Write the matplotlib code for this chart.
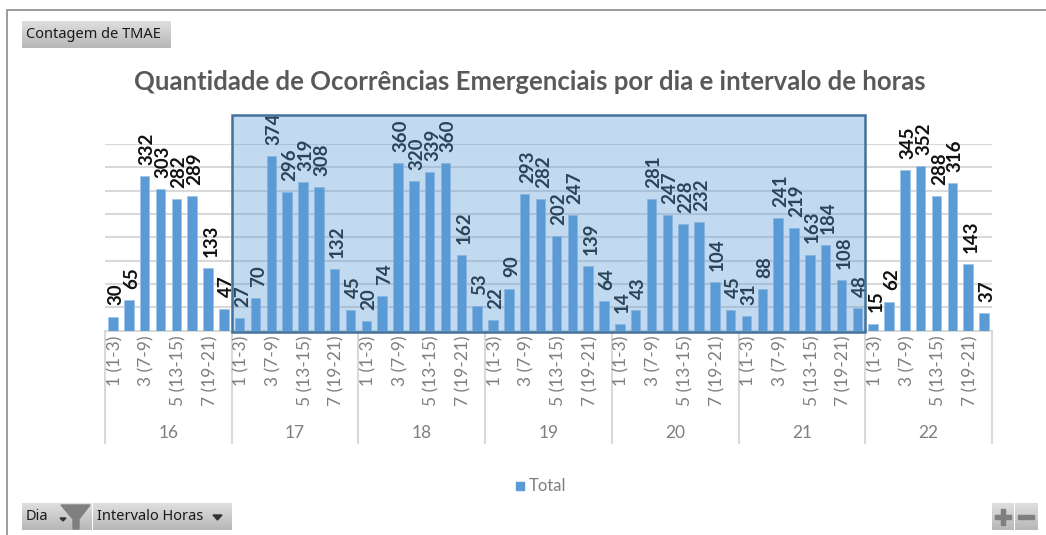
#!/usr/bin/env python3
import numpy as np
import matplotlib
matplotlib.use('Agg')
import matplotlib.pyplot as plt
from matplotlib.patches import Rectangle, Polygon

plt.rcParams['font.family'] = ['Lato', 'DejaVu Sans']

W, H = 1046, 535

days = ['16', '17', '18', '19', '20', '21', '22']
interval_labels = ['1 (1-3)', '', '3 (7-9)', '', '5 (13-15)', '', '7 (19-21)', '']
day_values = [
    [30, 65, 332, 303, 282, 289, 133, 47],
    [27, 70, 374, 296, 319, 308, 132, 45],
    [20, 74, 360, 320, 339, 360, 162, 53],
    [22, 90, 293, 282, 202, 247, 139, 64],
    [14, 43, 281, 247, 228, 232, 104, 45],
    [31, 88, 241, 219, 163, 184, 108, 48],
    [15, 62, 345, 352, 288, 316, 143, 37],
]
selected_days = ['17', '18', '19', '20', '21']

BAR = '#5B9BD5'
GRID = '#D9D9D9'
GREY_TEXT = '#7F7F7F'


def button(ax, x, y, w, h):
    # grey gradient like the pivot field buttons
    grad = np.linspace(0.87, 0.72, 32).reshape(-1, 1)
    ax.imshow(grad, extent=(x, x + w, y + h, y), cmap='gray', vmin=0, vmax=1,
              aspect='auto', zorder=2)


fig = plt.figure(figsize=(W / 100, H / 100), dpi=100)

# page layer in pixel coordinates, for frame and field buttons
page = fig.add_axes([0, 0, 1, 1])
page.set_xlim(0, W)
page.set_ylim(H, 0)
page.axis('off')
page.plot([W, 6.5, 6.5], [10, 10, H], color='#8C8C8C', lw=1.2)

button(page, 22, 21, 149, 27)
page.text(26, 35, 'Contagem de TMAE', fontsize=10.5, family='Noto Sans',
          va='center', color='#1a1a1a', zorder=3)

button(page, 22, 503, 70, 27)
page.text(26, 517, 'Dia', fontsize=10.5, family='Noto Sans', va='center',
          color='#1a1a1a', zorder=3)
page.add_patch(Polygon([(61, 505), (90, 505), (79, 519), (79, 529), (73, 529), (73, 519)],
                       color='#7F7F7F', zorder=3))
page.add_patch(Polygon([(60, 518), (66, 518), (63, 521)], color='#333333', zorder=3))
button(page, 93, 503, 139, 27)
page.text(97, 517, 'Intervalo Horas', fontsize=10.5, family='Noto Sans', va='center',
          color='#1a1a1a', zorder=3)
page.add_patch(Polygon([(213, 515), (222, 515), (217.5, 520)], color='#333333', zorder=3))

button(page, 992, 503, 22, 27)
button(page, 1015, 503, 23, 27)
page.add_patch(Rectangle((995, 515), 16, 4, color='#7F7F7F', zorder=3))
page.add_patch(Rectangle((1001, 509), 4, 16, color='#7F7F7F', zorder=3))
page.add_patch(Rectangle((1018, 515), 16, 4, color='#7F7F7F', zorder=3))

page.text(530, 82, 'Quantidade de Ocorrências Emergenciais por dia e intervalo de horas',
          fontsize=18.5, fontweight='bold', color='#595959', ha='center', va='center')

# legend
page.add_patch(Rectangle((516, 482), 8, 8, color=BAR))
page.text(529, 486, 'Total', fontsize=12, color=GREY_TEXT, va='center')

# plot area
left, right, top, bottom = 105, 992, 144, 330.5
ax = fig.add_axes([left / W, 1 - bottom / H, (right - left) / W, (bottom - top) / H])
ax.patch.set_alpha(0)
n_per_day = len(interval_labels)
n_days = len(days)
ax.set_xlim(-0.5, n_days * n_per_day - 0.5)
ax.set_ylim(0, 400)
for s in ax.spines.values():
    s.set_visible(False)
ax.set_yticks(np.arange(50, 401, 50))
ax.tick_params(axis='y', length=0, labelleft=False)
ax.yaxis.grid(True, color=GRID, lw=1.5, zorder=1)
ax.set_axisbelow(True)

values = np.array(day_values).ravel()
x = np.arange(len(values))

ax.bar(x, values, width=0.6, color=BAR, edgecolor='#9DC3E6', lw=0.5, zorder=3)
for xi, v in zip(x, values):
    ax.annotate(str(v), (xi, v), xytext=(2, 8), textcoords='offset points', rotation=90,
                ha='center', va='bottom', fontsize=13.5, fontweight='bold', color='#111111',
                annotation_clip=False, zorder=4)

# highlighted range of days, see-through on top of everything like a selection
i0 = days.index(selected_days[0]) * n_per_day - 0.5
i1 = (days.index(selected_days[-1]) + 1) * n_per_day - 0.5
ax.add_patch(Rectangle((i0, -3), i1 - i0, 465, facecolor=(0.357, 0.608, 0.835, 0.37),
                       edgecolor='#41719C', lw=1.8, clip_on=False, zorder=5))

# interval labels, top aligned under the axis
ax.set_xticks([])
for xi, lab in zip(x, interval_labels * n_days):
    if lab:
        ax.annotate(lab, (xi, 0), xytext=(1.5, -3.5), textcoords='offset points', rotation=90,
                    ha='center', va='top', fontsize=12.5, color=GREY_TEXT, annotation_clip=False)

# multi level axis: day separators and names
trans = ax.get_xaxis_transform()
axis_drop = (443 - bottom) / (bottom - top)
ax.plot([-0.5, n_days * n_per_day - 0.5], [0, 0], color=GRID, lw=1.5, clip_on=False, zorder=2)
for d in range(n_days + 1):
    ax.plot([d * n_per_day - 0.5] * 2, [0, -axis_drop], transform=trans, color=GRID, lw=1.5,
            clip_on=False)
for d, name in enumerate(days):
    ax.text((d + 0.5) * n_per_day - 0.5, (bottom - 433) / (bottom - top), name, transform=trans,
            ha='center', va='center', fontsize=12.5, color=GREY_TEXT)

fig.savefig('out.png', dpi=100)
